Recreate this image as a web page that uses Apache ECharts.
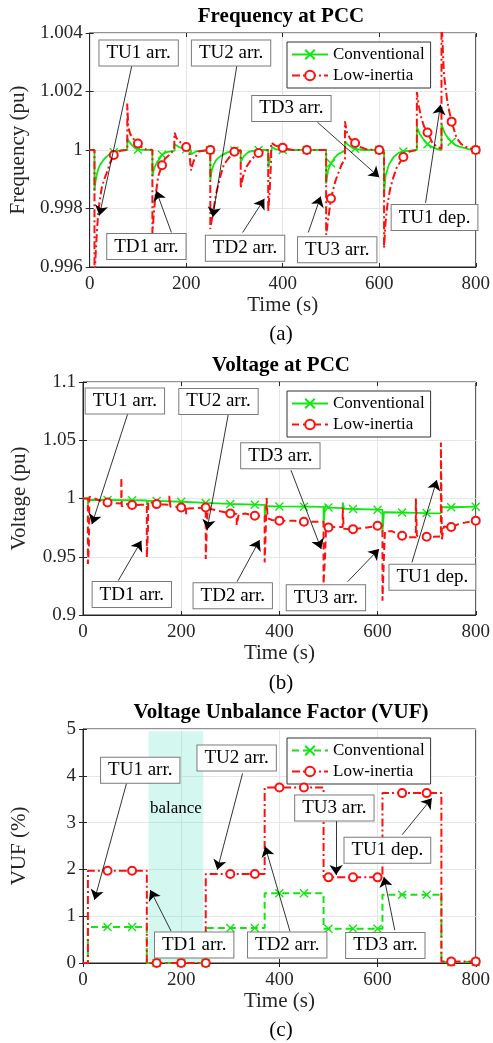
<!DOCTYPE html>
<html>
<head>
<meta charset="utf-8">
<script src="https://cdn.jsdelivr.net/npm/echarts@6/dist/echarts.min.js"></script>
<style>
html,body{margin:0;padding:0;background:#fff;}
#chart{width:493px;height:1043px;}
</style>
</head>
<body>
<div id="chart"></div>
<script>
// ---------------- data ----------------
const X_TICKS = ['0', '200', '400', '600', '800'];
const F_TICKS = ['0.996', '0.998', '1', '1.002', '1.004'];
const V_TICKS = ['0.9', '0.95', '1', '1.05', '1.1'];
const U_TICKS = ['0', '1', '2', '3', '4', '5'];
const MARK_T = [50, 100, 150, 200, 250, 300, 350, 400, 450, 500, 550, 600, 650, 700, 750, 800];

// Frequency at PCC (pu)
const F_CONV = [[0,1],[10,1],[10,0.9986],[12,0.9989],[15,0.99918],[18,0.99935],[21,0.99947],[26,0.9996],[31,0.99971],[40,0.99984],[50,0.99992],[60,0.99998],[78,1.0],[78,1.0004],[82,1.00028],[89,1.00014],[95,1.00005],[100,1.00001],[130,1.0],[130,0.9991],[134,0.9994],[139,0.99956],[145,0.9997],[150,0.99984],[160,0.99993],[176,0.99998],[176,1.0002],[185,1.0001],[200,1.00003],[210,1.0],[210,0.99985],[220,0.99995],[250,1.0],[250,0.99895],[253,0.9993],[257,0.9995],[263,0.99968],[272,0.9998],[285,0.99992],[300,0.99998],[313,1.0],[313,0.9996],[320,0.9998],[330,0.99994],[350,1.0],[370,1.0],[370,0.9994],[374,0.99975],[378,1.0001],[385,1.00003],[400,1.0],[450,1.0],[490,1.0],[490,0.99885],[494,0.9993],[500,0.99955],[507,0.99972],[515,0.99986],[529,0.99998],[529,1.0003],[535,1.00018],[547,1.00005],[550,1.00004],[565,1.0],[600,1.0],[610,1.0],[610,0.9985],[613,0.9991],[620,0.9995],[630,0.99976],[640,0.9999],[650,0.99995],[678,1.0],[678,1.00078],[684,1.00055],[690,1.0004],[700,1.0002],[710,1.0001],[720,1.00003],[729,1.0],[729,1.00088],[735,1.0006],[744,1.00037],[750,1.00028],[760,1.00015],[770,1.0001],[785,1.00003],[800,1.0]];
const F_LOW = [[0,1],[10,1],[10,0.9955],[12,0.9963],[15,0.9972],[18,0.9979],[21,0.9983],[25,0.9987],[30,0.999],[35,0.9992],[42,0.99955],[50,0.99983],[58,0.99993],[65,0.99998],[78,1.0],[78,1.00159],[80,1.0008],[84,1.00055],[89,1.00042],[95,1.0003],[100,1.00022],[108,1.0001],[116,1.00002],[130,1.0],[130,0.99715],[133,0.99785],[136,0.99836],[142,0.9991],[150,0.99948],[156,0.9997],[163,0.9998],[175,1.0],[176,1.0],[176,1.0006],[180,1.0004],[189,1.00025],[200,1.0001],[206,1.0],[210,1.0],[210,0.9993],[215,0.9996],[225,0.99995],[250,1.0],[250,0.9973],[253,0.9976],[257,0.998],[262,0.9985],[270,0.99905],[278,0.9995],[287,0.9997],[300,0.99994],[313,0.99998],[313,0.9987],[318,0.9991],[324,0.9994],[335,0.99968],[350,0.9999],[362,0.99997],[370,1.0],[370,0.9979],[373,0.9986],[376,0.99965],[376,1.00025],[385,1.00015],[400,1.00008],[420,1.0],[450,1.0],[490,1.0],[490,0.9971],[494,0.9976],[500,0.99834],[509,0.99893],[515,0.9992],[522,0.9995],[529,0.9997],[529,1.00098],[533,1.0006],[540,1.00038],[550,1.00024],[560,1.0001],[575,1.00002],[600,1.0],[610,1.0],[610,0.99665],[613,0.9975],[617,0.99813],[623,0.9987],[630,0.9991],[636,0.99939],[650,0.99976],[663,0.99995],[678,1.0],[678,1.00198],[682,1.0015],[687,1.00111],[693,1.0008],[700,1.0006],[710,1.00025],[720,1.0001],[729,1.00005],[729,1.0045],[734,1.0026],[740,1.0018],[744,1.0014],[750,1.00097],[760,1.00042],[770,1.0002],[780,1.0001],[800,1.0]];

// Voltage at PCC (pu)
const V_CONV = [[0,1.0],[10,1.0],[10,0.9952],[13,0.9988],[50,0.9987],[100,0.9985],[130,0.9983],[130,0.9945],[133,0.998],[150,0.9979],[200,0.9972],[250,0.9962],[250,0.9952],[253,0.996],[300,0.9953],[350,0.9947],[370,0.9946],[370,0.9855],[373,0.9935],[376,0.9933],[400,0.9932],[450,0.993],[490,0.9928],[490,0.978],[493,0.9925],[495,0.9945],[498,0.9922],[500,0.9922],[529,0.9918],[529,0.9966],[532,0.9912],[550,0.991],[600,0.9904],[610,0.9903],[610,0.971],[613,0.9882],[650,0.988],[678,0.9877],[678,0.9885],[681,0.9876],[700,0.9875],[729,0.9873],[729,0.9925],[732,0.9918],[750,0.9925],[800,0.993]];
const V_LOW = [[0,1.0],[10,1.0],[10,0.9438],[12,0.96],[13,1.0015],[20,1.0008],[35,0.998],[50,0.9966],[65,0.996],[78,0.9958],[78,1.018],[79,0.993],[85,0.9955],[100,0.9944],[118,0.9946],[130,0.9945],[130,0.9494],[132,0.97],[133,0.9975],[140,0.9965],[150,0.9952],[165,0.9948],[176,0.9945],[176,1.0023],[178,0.993],[190,0.9928],[200,0.9923],[210,0.992],[210,0.9866],[214,0.9915],[230,0.9918],[250,0.9922],[250,0.948],[252,0.97],[254,0.991],[265,0.9905],[280,0.989],[300,0.9871],[313,0.9868],[313,0.977],[317,0.9862],[330,0.9872],[350,0.9852],[370,0.985],[370,0.9452],[372,0.97],[374,1.0005],[376,0.983],[385,0.9815],[400,0.981],[430,0.9808],[450,0.980],[470,0.980],[490,0.980],[490,0.9266],[493,0.95],[495,0.9735],[500,0.9752],[515,0.9755],[529,0.9755],[529,0.9923],[531,0.974],[540,0.9738],[550,0.9737],[575,0.9748],[600,0.9766],[610,0.9766],[610,0.9123],[613,0.95],[615,0.9718],[630,0.9718],[650,0.968],[665,0.9668],[678,0.9668],[678,1.0],[680,0.968],[690,0.9672],[700,0.9672],[715,0.9672],[729,0.9675],[729,1.048],[731,0.965],[735,0.976],[745,0.9752],[750,0.9755],[765,0.978],[780,0.9795],[800,0.981]];

// Voltage Unbalance Factor (%)
const U_CONV = [[0,0],[10,0],[10,0.77],[50,0.77],[100,0.77],[130,0.77],[130,0],[150,0],[200,0],[250,0],[250,0.75],[300,0.75],[350,0.75],[370,0.75],[370,1.49],[400,1.49],[450,1.49],[490,1.49],[490,0.73],[500,0.73],[550,0.73],[600,0.73],[610,0.73],[610,1.46],[650,1.46],[700,1.46],[730,1.46],[730,0.02],[750,0.02],[800,0.02]];
const U_LOW = [[0,0],[10,0],[10,1.97],[50,1.97],[100,1.97],[130,1.97],[130,0],[150,0],[200,0],[250,0],[250,1.9],[300,1.9],[350,1.9],[370,1.9],[370,3.75],[400,3.75],[450,3.75],[490,3.75],[490,1.83],[500,1.83],[550,1.83],[600,1.83],[610,1.83],[610,3.63],[650,3.63],[700,3.63],[730,3.63],[730,0.03],[750,0.03],[800,0.03]];

// annotations: [text, box centre, arrow start, arrow tip] in data units
const ANN_A = [
  ['TU1 arr.', [101.5, 1.00332], [87.5, 1.00289], [20.2, 0.99776]],
  ['TU2 arr.', [293, 1.00332], [305, 1.00289], [255, 0.9977]],
  ['TD3 arr.', [418, 1.00142], [472, 1.00095], [600, 0.99907]],
  ['TU1 dep.', [714.6, 0.99769], [696, 0.99819], [727, 1.00155]],
  ['TD1 arr.', [117.6, 0.9967], [169.4, 0.99718], [137.8, 0.99861]],
  ['TD2 arr.', [322, 0.99664], [317, 0.99718], [362, 0.99833]],
  ['TU3 arr.', [513, 0.99659], [453, 0.99718], [478.6, 0.99841]]
];
const ANN_B = [
  ['TU1 arr.', [85.3, 1.0837], [90.8, 1.0723], [18.2, 0.978]],
  ['TU2 arr.', [276, 1.0833], [295.7, 1.0717], [252.7, 0.9732]],
  ['TD3 arr.', [402, 1.0366], [423.6, 1.0243], [485.3, 0.9566]],
  ['TD1 arr.', [99.4, 0.9175], [71.8, 0.9295], [119, 0.9637]],
  ['TD2 arr.', [305, 0.9166], [313.8, 0.9286], [359.6, 0.9643]],
  ['TU3 arr.', [494.8, 0.9149], [539, 0.9286], [603, 0.9566]],
  ['TU1 dep.', [711.6, 0.9323], [670, 0.9451], [720.6, 1.0158]]
];
const ANN_C = [
  ['TU1 arr.', [116.6, 4.12], [88.7, 3.84], [23.4, 1.35]],
  ['TU2 arr.', [313, 4.38], [325, 4.05], [273.5, 1.99]],
  ['TU3 arr.', [512, 3.31], [515.5, 3.06], [515.5, 1.88]],
  ['TU1 dep.', [620, 2.41], [650, 2.74], [710.5, 3.52]],
  ['TD1 arr.', [226.5, 0.385], [179.5, 0.68], [137, 1.56]],
  ['TD2 arr.', [416, 0.385], [421.5, 0.68], [371, 2.49]],
  ['TD3 arr.', [615.8, 0.374], [635, 0.705], [613, 1.84]]
];
const BALANCE = ['balance', 133.5, 245, 4.95];

// ---------------- styling / build ----------------
const FONT = 'Liberation Serif';
const GREEN = '#12e612';
const RED = '#ff1010';
const AX = '#262626';
const X_SYM = 'path://M0,0L10,10M10,0L0,10';
const DASHDOT = [8, 3, 2, 3];
const DASH = [7, 4];

function tickFmt(ticks) {
  return function (v) {
    const l = ticks.find(s => Math.abs(parseFloat(s) - v) < 1e-7);
    return l === undefined ? '' : l;
  };
}
function mk(pts) {
  const used = new Set();
  return pts.map(p => {
    if (MARK_T.includes(p[0]) && !used.has(p[0])) { used.add(p[0]); return p; }
    return { value: p, symbol: 'none' };
  });
}

const GRID_TOPS = [33, 382, 729];
const GRID_H = [234, 233, 234];
const grids = GRID_TOPS.map((t, i) => ({
  left: 83, top: t, width: 396, height: GRID_H[i], show: true,
  borderColor: AX, borderWidth: 1, backgroundColor: '#fff'
}));

const xAxes = [];
const yAxes = [];
const Y_DEF = [
  { min: 0.996, max: 1.004, interval: 0.002, ticks: F_TICKS, name: 'Frequency (pu)' },
  { min: 0.9, max: 1.1, interval: 0.05, ticks: V_TICKS, name: 'Voltage (pu)' },
  { min: 0, max: 5, interval: 1, ticks: U_TICKS, name: 'VUF (%)' }
];
for (let i = 0; i < 3; i++) {
  xAxes.push({
    type: 'value', gridIndex: i, min: 0, max: 800, interval: 200,
    name: 'Time (s)', nameLocation: 'middle', nameGap: 28,
    nameTextStyle: { fontSize: 21, fontFamily: FONT, color: AX },
    axisLine: { show: true, lineStyle: { color: AX, width: 1 } },
    axisTick: { show: true, inside: true, length: 4, lineStyle: { color: AX } },
    axisLabel: { fontSize: 19, fontFamily: FONT, color: AX, margin: 8, formatter: tickFmt(X_TICKS) },
    splitLine: { show: true, lineStyle: { color: '#e6e6e6', width: 1 } }
  });
  yAxes.push({
    type: 'value', gridIndex: i, min: Y_DEF[i].min, max: Y_DEF[i].max, interval: Y_DEF[i].interval,
    name: Y_DEF[i].name, nameLocation: 'middle', nameGap: 53,
    nameTextStyle: { fontSize: 21, fontFamily: FONT, color: AX },
    axisLine: { show: true, lineStyle: { color: AX, width: 1 } },
    axisTick: { show: true, inside: true, length: 4, lineStyle: { color: AX } },
    axisLabel: { fontSize: 19, fontFamily: FONT, color: AX, margin: 7, formatter: tickFmt(Y_DEF[i].ticks) },
    splitLine: { show: true, lineStyle: { color: '#e6e6e6', width: 1 } }
  });
}
for (let i = 0; i < 3; i++) {
  xAxes.push({
    type: 'value', gridIndex: i, position: 'top', min: 0, max: 800, interval: 200,
    axisLine: { show: false }, axisLabel: { show: false }, splitLine: { show: false },
    axisTick: { show: true, inside: true, length: 4, lineStyle: { color: AX } }
  });
  yAxes.push({
    type: 'value', gridIndex: i, position: 'right', min: Y_DEF[i].min, max: Y_DEF[i].max, interval: Y_DEF[i].interval,
    axisLine: { show: false }, axisLabel: { show: false }, splitLine: { show: false },
    axisTick: { show: true, inside: true, length: 4, lineStyle: { color: AX } }
  });
}

const STYLE = {
  a: { conv: { width: 1.8, type: 'solid' }, low: { width: 2, type: DASHDOT } },
  b: { conv: { width: 1.8, type: 'solid' }, low: { width: 2, type: DASH } },
  c: { conv: { width: 2, type: DASH }, low: { width: 2, type: DASHDOT } }
};
const PANELS = [
  { key: 'a', conv: F_CONV, low: F_LOW, ann: ANN_A },
  { key: 'b', conv: V_CONV, low: V_LOW, ann: ANN_B },
  { key: 'c', conv: U_CONV, low: U_LOW, ann: ANN_C }
];

const series = [];
const legends = [];
PANELS.forEach((p, i) => {
  const st = STYLE[p.key];
  series.push({
    type: 'line', name: 'Conventional|' + p.key, xAxisIndex: i, yAxisIndex: i,
    data: mk(p.conv), symbol: X_SYM, symbolSize: 8, showSymbol: true, showAllSymbol: true,
    itemStyle: { color: GREEN, borderColor: GREEN, borderWidth: 1.4 },
    lineStyle: { color: GREEN, width: st.conv.width, type: st.conv.type },
    z: 3, clip: true, silent: true
  });
  series.push({
    type: 'line', name: 'Low-inertia|' + p.key, xAxisIndex: i, yAxisIndex: i,
    data: mk(p.low), symbol: 'emptyCircle', symbolSize: 8, showSymbol: true, showAllSymbol: true,
    itemStyle: { color: RED, borderColor: RED, borderWidth: 1.5 },
    lineStyle: { color: RED, width: st.low.width, type: st.low.type },
    z: 4, clip: true, silent: true
  });
  series.push({
    type: 'scatter', name: 'ann' + p.key, xAxisIndex: i, yAxisIndex: i,
    symbolSize: 1, itemStyle: { color: 'rgba(0,0,0,0)' }, silent: true, z: 10,
    data: p.ann.map(a => ({ value: a[1], label: { formatter: a[0] } })),
    label: {
      show: true, position: 'inside', fontSize: 19, fontFamily: FONT, color: '#000', opacity: 1,
      textBorderWidth: 0, textBorderColor: 'transparent', textShadowBlur: 0,
      backgroundColor: '#fff', borderColor: '#7a7a7a', borderWidth: 1, padding: [4, 7, 2, 7]
    },
    markLine: {
      silent: true, symbol: ['none', 'arrow'], symbolSize: 10, precision: 6,
      label: { show: false },
      lineStyle: { color: '#000', width: 0.8, type: 'solid' },
      emphasis: { disabled: true },
      data: p.ann.map(a => [{ coord: a[2] }, { coord: a[3] }])
    }
  });
  legends.push({
    orient: 'vertical', left: 287, top: [42, 391, 738][i],
    itemWidth: 36, itemHeight: 12, itemGap: 4, padding: [4, 6, 4, 4],
    borderColor: '#333', borderWidth: 1, backgroundColor: '#fff',
    selectedMode: false,
    textStyle: { fontSize: 17, fontFamily: FONT, color: '#000' },
    formatter: n => n.split('|')[0],
    data: ['Conventional|' + p.key, 'Low-inertia|' + p.key]
  });
});
series.push({
  type: 'scatter', name: 'shade', xAxisIndex: 2, yAxisIndex: 2, data: [], z: 1, silent: true,
  markArea: {
    silent: true,
    itemStyle: { color: 'rgba(100,225,200,0.28)' },
    label: { show: true, position: 'insideTop', distance: 69, fontSize: 17, fontFamily: FONT, color: '#000' },
    data: [[{ name: BALANCE[0], xAxis: BALANCE[1], yAxis: 0 }, { xAxis: BALANCE[2], yAxis: BALANCE[3] }]]
  }
});

function gtext(txt, x, y, font) {
  return {
    type: 'text', x: x, y: y, silent: true, z: 100,
    style: { text: txt, font: font, fill: '#000', align: 'center', verticalAlign: 'middle', textAlign: 'center', textVerticalAlign: 'middle' }
  };
}
const graphics = [
  gtext('Frequency at PCC', 281, 17, 'bold 21px "Liberation Serif"'),
  gtext('Voltage at PCC', 281, 366, 'bold 21px "Liberation Serif"'),
  gtext('Voltage Unbalance Factor (VUF)', 281, 713, 'bold 21px "Liberation Serif"'),
  gtext('(a)', 281, 334, '21px "Liberation Serif"'),
  gtext('(b)', 281, 683, '21px "Liberation Serif"'),
  gtext('(c)', 281, 1030, '21px "Liberation Serif"')
];

const chart = echarts.init(document.getElementById('chart'), null, { renderer: 'canvas' });
chart.setOption({
  animation: false,
  backgroundColor: '#fff',
  textStyle: { fontFamily: FONT },
  grid: grids,
  xAxis: xAxes,
  yAxis: yAxes,
  legend: legends,
  graphic: graphics,
  series: series
});
</script>
</body>
</html>
